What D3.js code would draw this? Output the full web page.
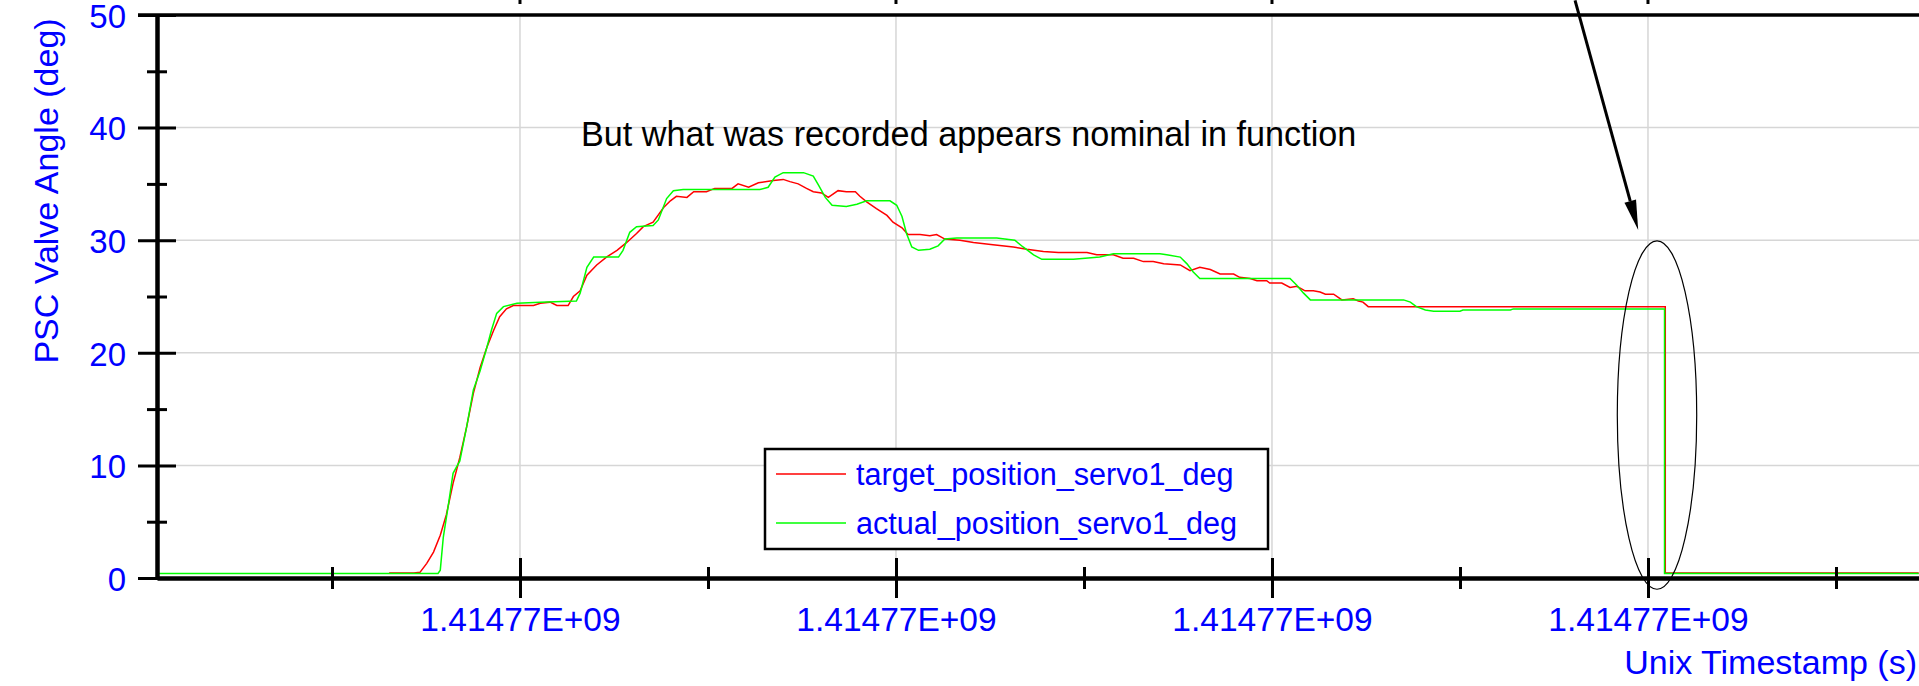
<!DOCTYPE html>
<html>
<head>
<meta charset="utf-8">
<script src="https://cdn.jsdelivr.net/npm/d3@7"></script>
<style>
  body { margin: 0; background: #fff; }
  text { font-family: "Liberation Sans", Arial, sans-serif; }
</style>
</head>
<body>
<div class="vis-holder"></div>
<script>
// time values are seconds after baseTime
var baseTime = 1414771000;

var targetTime = [-17.4, -14.1, -13.3, -12.4, -11.5, -10.6, -9.8, -8.9, -8.0, -7.1,
  -6.2, -5.3, -4.4, -3.5, -2.7, -1.8, -0.9, 1.8, 2.7, 4.0,
  4.9, 6.4, 7.1, 8.0, 8.9, 10.2, 11.5, 12.9, 14.2, 15.5,
  16.4, 17.7, 19.1, 20.0, 20.8, 22.2, 23.1, 24.8, 25.9, 28.2,
  29.0, 30.4, 31.7, 33.7, 35.0, 35.9, 37.0, 38.1, 39.0, 40.1,
  41.0, 42.3, 43.4, 44.6, 45.2, 46.1, 47.4, 48.8, 49.6, 50.8,
  51.6, 53.2, 54.5, 55.4, 56.5, 58.5, 60.3, 62.9, 65.6, 67.4,
  69.6, 71.6, 75.4, 76.7, 78.9, 80.2, 81.6, 82.9, 84.2, 85.6,
  87.8, 89.1, 90.4, 91.8, 93.1, 94.9, 95.7, 97.1, 98.0, 99.3,
  99.7, 101.3, 102.4, 103.3, 104.4, 105.5, 106.4, 107.1, 108.2, 109.3,
  110.8, 111.5, 112.1, 112.8, 152.3, 152.3, 186.0];
var targetAngle = [0.45, 0.45, 0.5, 1.3, 2.3, 3.8, 5.6, 8.4, 10.7, 13.4,
  16.4, 18.7, 20.5, 22.0, 23.2, 23.9, 24.2, 24.2, 24.4, 24.5,
  24.2, 24.2, 25.0, 25.5, 26.9, 27.8, 28.5, 29.1, 29.8, 30.6,
  31.2, 31.6, 32.9, 33.5, 33.9, 33.8, 34.3, 34.3, 34.6, 34.6,
  35.0, 34.7, 35.1, 35.3, 35.4, 35.2, 35.0, 34.6, 34.3, 34.2,
  33.8, 34.4, 34.3, 34.3, 33.9, 33.4, 32.8, 32.2, 31.6, 31.1,
  30.5, 30.5, 30.4, 30.5, 30.1, 30.0, 29.8, 29.6, 29.4, 29.2,
  29.0, 28.9, 28.9, 28.7, 28.7, 28.4, 28.4, 28.1, 28.1, 27.9,
  27.8, 27.3, 27.6, 27.4, 27.0, 27.0, 26.7, 26.6, 26.4, 26.4,
  26.2, 26.2, 25.8, 25.9, 25.5, 25.5, 25.4, 25.2, 25.2, 24.7,
  24.8, 24.6, 24.5, 24.1, 24.1, 0.45, 0.45];

var actualTime = [-48.3, -10.9, -10.6, -10.2, -9.5, -8.9, -8.0, -7.1, -6.2, -5.3,
  -4.4, -3.8, -3.1, -2.2, -0.4, 2.7, 7.5, 8.0, 8.9, 9.8,
  13.1, 13.7, 14.6, 15.5, 17.7, 18.4, 19.5, 20.4, 21.7, 31.9,
  33.0, 33.9, 35.0, 37.7, 39.0, 39.7, 40.6, 41.5, 43.4, 44.8,
  46.1, 49.2, 50.1, 50.8, 51.4, 52.1, 53.0, 54.5, 55.6, 56.5,
  58.1, 63.4, 65.8, 66.9, 68.3, 69.4, 73.6, 77.1, 78.9, 85.1,
  86.0, 87.8, 88.7, 89.5, 90.4, 102.4, 103.3, 104.2, 105.1, 117.5,
  118.4, 119.2, 120.4, 121.5, 125.0, 125.4, 131.7, 132.1, 152.2, 152.2,
  186.0];
var actualAngle = [0.4, 0.4, 0.7, 3.6, 6.6, 9.3, 10.4, 13.4, 16.7, 18.4,
  20.5, 22.0, 23.5, 24.1, 24.4, 24.5, 24.6, 25.3, 27.6, 28.5,
  28.5, 29.1, 30.7, 31.2, 31.3, 31.8, 33.7, 34.4, 34.5, 34.5,
  34.7, 35.6, 36.0, 36.0, 35.7, 34.9, 33.8, 33.1, 33.0, 33.2,
  33.5, 33.5, 33.1, 32.1, 30.6, 29.4, 29.1, 29.2, 29.5, 30.1,
  30.2, 30.2, 30.0, 29.4, 28.7, 28.3, 28.3, 28.5, 28.8, 28.8,
  28.7, 28.5, 27.9, 27.2, 26.6, 26.6, 26.0, 25.3, 24.7, 24.7,
  24.5, 24.1, 23.8, 23.7, 23.7, 23.8, 23.8, 23.9, 23.9, 0.4,
  0.4];

var xMajorTicks = [0, 50, 100, 150];
var xMinorTicks = [-25, 25, 75, 125, 175];
var yMajorTicks = [0, 10, 20, 30, 40, 50];
var yMinorTicks = [5, 15, 25, 35, 45];
var yGrid = [10, 20, 30, 40];

var seriesNames = ["target_position_servo1_deg", "actual_position_servo1_deg"];
var seriesColors = ["#ff0000", "#00ff00"];
var noteText = "But what was recorded appears nominal in function";
var xTitle = "Unix Timestamp (s)";
var yTitle = "PSC Valve Angle (deg)";

// excel style label, e.g. 1.41477E+09
function sciLabel(v) {
  var parts = v.toExponential(5).split('e');
  var e = +parts[1];
  return parts[0] + 'E' + (e < 0 ? '-' : '+') + String(Math.abs(e)).padStart(2, '0');
}

drawChart();

function drawChart() {
  var width = 1919;
  var height = 686;
  var margin = { top: 15, bottom: 108, left: 157, right: 0 };
  var blue = '#0000ff';

  var svg = d3.select('.vis-holder')
    .append('svg')
    .attr('width', width)
    .attr('height', height);

  var xScale = d3.scaleLinear()
    .domain([-48.27, 186.04])
    .range([margin.left, width - margin.right]);

  var yScale = d3.scaleLinear()
    .domain([0, 50])
    .range([height - margin.bottom, margin.top]);

  // grid
  svg.append('g').selectAll('line').data(xMajorTicks).join('line')
    .attr('x1', function(d){ return xScale(d); })
    .attr('x2', function(d){ return xScale(d); })
    .attr('y1', yScale(50))
    .attr('y2', yScale(0))
    .attr('stroke', '#d6d6d6')
    .attr('stroke-width', 1.5);

  svg.append('g').selectAll('line').data(yGrid).join('line')
    .attr('x1', xScale.range()[0])
    .attr('x2', xScale.range()[1])
    .attr('y1', function(d){ return yScale(d); })
    .attr('y2', function(d){ return yScale(d); })
    .attr('stroke', '#d6d6d6')
    .attr('stroke-width', 1.5);

  // little ticks of the panel above
  svg.append('g').selectAll('line').data(xMajorTicks).join('line')
    .attr('x1', function(d){ return xScale(d); })
    .attr('x2', function(d){ return xScale(d); })
    .attr('y1', 0)
    .attr('y2', 4)
    .attr('stroke', '#000')
    .attr('stroke-width', 3);

  // series
  var line = d3.line()
    .x(function(d){ return xScale(d[0]); })
    .y(function(d){ return yScale(d[1]); });

  svg.append('path')
    .attr('d', line(d3.zip(targetTime, targetAngle)))
    .attr('fill', 'none')
    .attr('stroke', seriesColors[0])
    .attr('stroke-width', 1.5);

  svg.append('path')
    .attr('d', line(d3.zip(actualTime, actualAngle)))
    .attr('fill', 'none')
    .attr('stroke', seriesColors[1])
    .attr('stroke-width', 1.5);

  // x axis
  var xAxis = d3.axisBottom(xScale)
    .tickValues(xMajorTicks)
    .tickSize(0)
    .tickSizeOuter(0)
    .tickFormat(function(d){ return sciLabel(baseTime + d); });
  var gx = svg.append('g')
    .attr('class', 'x axis')
    .attr('transform', 'translate(0,' + yScale(0) + ')')
    .call(xAxis);
  gx.attr('font-size', 33.5).attr('font-family', null);
  gx.select('.domain').attr('stroke', '#000').attr('stroke-width', 4.5);
  gx.selectAll('.tick line').attr('y1', -20).attr('y2', 20).attr('stroke', '#000').attr('stroke-width', 3);
  gx.selectAll('.tick text').attr('y', 53).attr('dy', null).attr('fill', blue);

  var xMinor = d3.axisBottom(xScale).tickValues(xMinorTicks).tickSize(0).tickFormat('');
  var gxm = svg.append('g')
    .attr('transform', 'translate(0,' + yScale(0) + ')')
    .call(xMinor);
  gxm.select('.domain').remove();
  gxm.selectAll('.tick line').attr('y1', -11).attr('y2', 11).attr('stroke', '#000').attr('stroke-width', 3);

  // y axis
  var yAxis = d3.axisLeft(yScale)
    .tickValues(yMajorTicks)
    .tickSize(0)
    .tickSizeOuter(0);
  var gy = svg.append('g')
    .attr('class', 'y axis')
    .attr('transform', 'translate(' + margin.left + ',0)')
    .call(yAxis);
  gy.attr('font-size', 33).attr('font-family', null);
  gy.select('.domain').attr('stroke', '#000').attr('stroke-width', 4.5);
  gy.selectAll('.tick line').attr('x1', -19).attr('x2', 19).attr('stroke', '#000').attr('stroke-width', 3);
  gy.selectAll('.tick text').attr('x', -31).attr('dy', '0.37em').attr('fill', blue);

  var yMinor = d3.axisLeft(yScale).tickValues(yMinorTicks).tickSize(0).tickFormat('');
  var gym = svg.append('g')
    .attr('transform', 'translate(' + margin.left + ',0)')
    .call(yMinor);
  gym.select('.domain').remove();
  gym.selectAll('.tick line').attr('x1', -10).attr('x2', 10).attr('stroke', '#000').attr('stroke-width', 3);

  // top border
  svg.append('line')
    .attr('x1', margin.left - 19)
    .attr('x2', width)
    .attr('y1', yScale(50))
    .attr('y2', yScale(50))
    .attr('stroke', '#000')
    .attr('stroke-width', 3.5);

  // axis titles
  svg.append('text')
    .attr('x', width - 2)
    .attr('y', 674)
    .style('text-anchor', 'end')
    .attr('font-size', 34)
    .attr('fill', blue)
    .text(xTitle);

  svg.append('text')
    .attr('transform', 'translate(58,191) rotate(-90)')
    .style('text-anchor', 'middle')
    .attr('font-size', 34)
    .attr('fill', blue)
    .text(yTitle);

  // legend
  var legend = svg.append('g').attr('transform', 'translate(765,449)');
  legend.append('rect')
    .attr('width', 503)
    .attr('height', 100)
    .attr('fill', '#fff')
    .attr('stroke', '#000')
    .attr('stroke-width', 2.5);
  seriesNames.forEach(function(name, i){
    legend.append('line')
      .attr('x1', 11).attr('x2', 81)
      .attr('y1', 25 + i * 49).attr('y2', 25 + i * 49)
      .attr('stroke', seriesColors[i])
      .attr('stroke-width', 1.5);
    legend.append('text')
      .attr('x', 91)
      .attr('y', 36 + i * 49)
      .attr('font-size', 30.6)
      .attr('fill', blue)
      .text(name);
  });

  // annotation
  svg.append('text')
    .attr('x', xScale(8.1))
    .attr('y', yScale(38.4))
    .attr('font-size', 34.2)
    .attr('fill', '#000')
    .text(noteText);

  // arrow toward the drop
  var a0 = [xScale(140.3), yScale(51.3)];
  var a1 = [xScale(148.7), yScale(30.9)];
  var dx = a1[0] - a0[0], dy = a1[1] - a0[1];
  var len = Math.sqrt(dx * dx + dy * dy);
  var ux = dx / len, uy = dy / len;
  var headLen = 30, headW = 6;
  var bx = a1[0] - ux * headLen, by = a1[1] - uy * headLen;
  svg.append('line')
    .attr('x1', a0[0]).attr('y1', a0[1])
    .attr('x2', bx).attr('y2', by)
    .attr('stroke', '#000')
    .attr('stroke-width', 3);
  svg.append('path')
    .attr('d', 'M' + a1[0] + ',' + a1[1] +
      'L' + (bx - uy * headW) + ',' + (by + ux * headW) +
      'L' + (bx + uy * headW) + ',' + (by - ux * headW) + 'Z')
    .attr('fill', '#000');

  // ellipse around the drop
  svg.append('ellipse')
    .attr('cx', xScale(151.2))
    .attr('cy', yScale(14.47))
    .attr('rx', xScale(151.2 + 5.28) - xScale(151.2))
    .attr('ry', yScale(0) - yScale(15.47))
    .attr('fill', 'none')
    .attr('stroke', '#000')
    .attr('stroke-width', 1.2);
}
</script>
</body>
</html>
